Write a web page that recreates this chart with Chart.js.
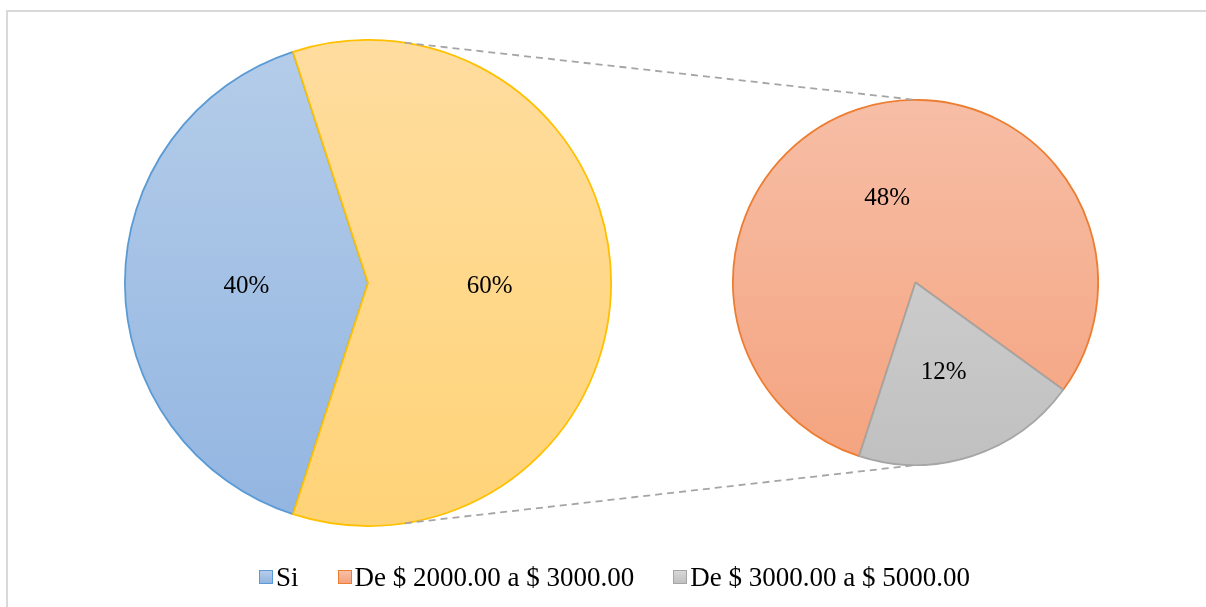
<!DOCTYPE html>
<html>
<head>
<meta charset="utf-8">
<script src="https://cdn.jsdelivr.net/npm/chart.js@4.4.1/dist/chart.umd.min.js"></script>
<style>
    html, body { margin: 0; padding: 0; background: #fff; overflow: hidden; }
    #wrap { position: relative; width: 1206px; height: 607px; overflow: hidden; font-family: "Liberation Serif", "Times New Roman", serif; }
    #frame { position: absolute; left: 6px; top: 10px; width: 1300px; height: 700px; border: 2px solid #d9d9d9; box-sizing: border-box; }
    .pie { position: absolute; }
    #mainBox { left: 124px; top: 39px; width: 488px; height: 488px; }
    #subBox { left: 732px; top: 99px; width: 367px; height: 367px; }
    #lines { position: absolute; left: 0; top: 0; }
    #legend { position: absolute; left: 259px; top: 562px; display: flex; align-items: center; height: 30px; font-size: 27px; color: #000; }
    .item { display: flex; align-items: center; margin-right: 39px; white-space: nowrap; }
    .box { width: 12px; height: 12px; border: 1.5px solid; margin-right: 3px; }
</style>
</head>
<body>
<div id="wrap">
    <div id="frame"></div>
    <div class="pie" id="mainBox"><canvas id="mainPie"></canvas></div>
    <div class="pie" id="subBox"><canvas id="subPie"></canvas></div>
    <canvas id="lines" width="1206" height="607"></canvas>
    <div id="legend"></div>
</div>
<script>
// donnees
const mainLabels = ['Si', 'Otros']
const mainValues = [40, 60]
const subLabels = ['De $ 2000.00 a $ 3000.00', 'De $ 3000.00 a $ 5000.00']
const subValues = [48, 12]
const legendLabels = ['Si', 'De $ 2000.00 a $ 3000.00', 'De $ 3000.00 a $ 5000.00']

// couleurs (haut / bas du degrade, bordure)
const mainColors = [['#b5cde9', '#92b5e1', '#5b9bd5'], ['#ffdd9f', '#ffd377', '#ffc000']]
const subColors = [['#f7bea6', '#f4a37f', '#ed7d31'], ['#d7d7d7', '#c0c0c0', '#a5a5a5']]
const legendColors = [mainColors[0], subColors[0], subColors[1]]

function gradientFill(colors) {
    return function (context) {
        const area = context.chart.chartArea
        const c = colors[context.dataIndex]
        if (!area) return c[0]
        const g = context.chart.ctx.createLinearGradient(0, area.top, 0, area.bottom)
        g.addColorStop(0, c[0])
        g.addColorStop(1, c[1])
        return g
    }
}

// etiquettes de pourcentage au milieu de chaque part
const percentLabels = {
    id: 'percentLabels',
    afterDatasetsDraw(chart) {
        const ctx = chart.ctx
        const meta = chart.getDatasetMeta(0)
        const values = chart.data.datasets[0].data
        ctx.save()
        ctx.font = '25px "Liberation Serif", "Times New Roman", serif'
        ctx.fillStyle = '#000'
        ctx.textAlign = 'center'
        ctx.textBaseline = 'middle'
        meta.data.forEach((arc, i) => {
            const mid = (arc.startAngle + arc.endAngle) / 2
            const r = arc.outerRadius * 0.5
            ctx.fillText(values[i] + '%', arc.x + Math.cos(mid) * r, arc.y + Math.sin(mid) * r + 3)
        })
        ctx.restore()
    }
}

function makePie(id, labels, values, colors) {
    return new Chart(document.getElementById(id), {
        type: 'pie',
        data: {
            labels,
            datasets: [{
                data: values,
                backgroundColor: gradientFill(colors),
                borderColor: colors.map((c) => c[2]),
                borderWidth: 1.8
            }]
        },
        options: {
            responsive: true,
            maintainAspectRatio: false,
            animation: false,
            rotation: 198,
            layout: { padding: 0 },
            plugins: { legend: { display: false }, tooltip: { enabled: false } }
        },
        plugins: [percentLabels]
    })
}

const mainChart = makePie('mainPie', mainLabels, mainValues, mainColors)
const subChart = makePie('subPie', subLabels, subValues, subColors)

// lignes pointillees entre les deux camemberts
function drawConnectors() {
    const a = mainChart.getDatasetMeta(0).data[0]
    const b = subChart.getDatasetMeta(0).data[0]
    const ra = mainChart.canvas.getBoundingClientRect()
    const rb = subChart.canvas.getBoundingClientRect()
    const ax = ra.left + a.x, ay = ra.top + a.y
    const bx = rb.left + b.x, by = rb.top + b.y
    const ang = 8.7 * Math.PI / 180
    const ctx = document.getElementById('lines').getContext('2d')
    ctx.strokeStyle = '#a5a5a5'
    ctx.lineWidth = 1.8
    ctx.setLineDash([7, 5])
    ;[-1, 1].forEach((s) => {
        ctx.beginPath()
        ctx.moveTo(ax + Math.sin(ang) * a.outerRadius, ay + s * Math.cos(ang) * a.outerRadius)
        ctx.lineTo(bx, by + s * b.outerRadius)
        ctx.stroke()
    })
}
drawConnectors()

// legende
const legend = document.getElementById('legend')
legendLabels.forEach((label, i) => {
    const c = legendColors[i]
    const item = document.createElement('div')
    item.className = 'item'
    const box = document.createElement('span')
    box.className = 'box'
    box.style.background = `linear-gradient(${c[0]}, ${c[1]})`
    box.style.borderColor = c[2]
    const text = document.createElement('span')
    text.textContent = label
    item.appendChild(box)
    item.appendChild(text)
    legend.appendChild(item)
})
</script>
</body>
</html>
